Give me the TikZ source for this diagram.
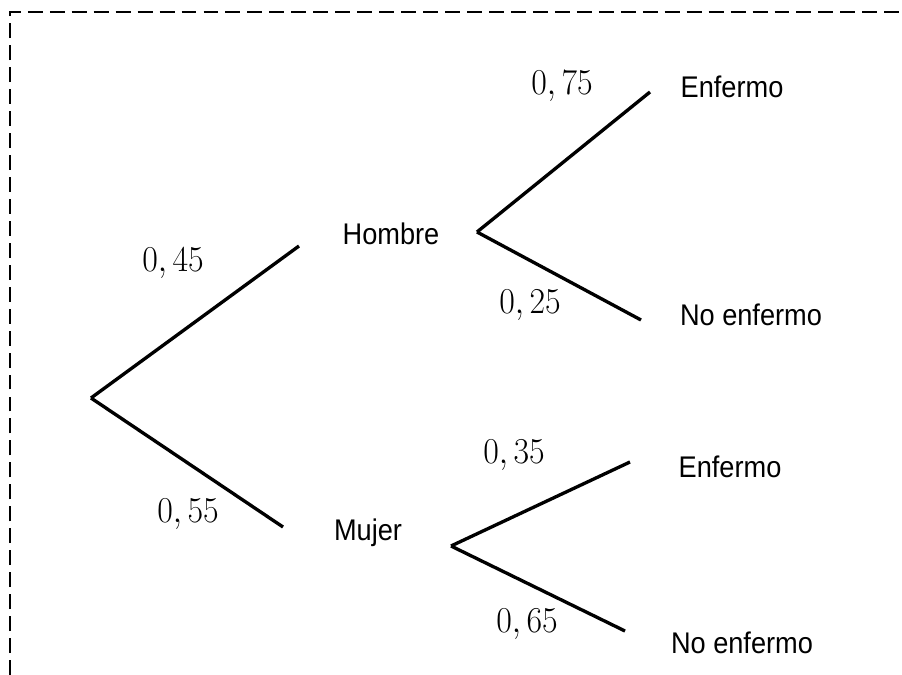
\documentclass[tikz,border=0pt]{standalone}
\usepackage{fontspec}
\setsansfont{Liberation Sans}[FakeStretch=0.91]
\newcommand{\probval}[1]{\scalebox{0.93}[1]{$0,#1$}}
\begin{document}
\begin{tikzpicture}
[x=0.02cm,y=-0.02cm,
  lineDecorate/.style={-,line width=1.9pt},%
  labelDecorate/.style={font=\sffamily\fontsize{17}{19}\selectfont,inner sep=0pt,anchor=base},
  probDecorate/.style={font=\fontsize{21}{23}\selectfont,inner sep=0pt,anchor=base},
  frameDecorate/.style={line width=1.1pt,dash pattern=on 8.5pt off 4pt}]
\useasboundingbox (0,0) rectangle (902,675);
%% frame
\draw[frameDecorate] (10,675) -- (10,12) -- (902,12);
%% branch points
\foreach \pointname/\x/\y in {
  root/91/398, hIn/299/246, mIn/283/527,
  hOut/477/232, mOut/451/546,
  heIn/650/92, hnIn/641/320, meIn/630/462, mnIn/625/631}
{
  \coordinate (\pointname) at (\x,\y);
}
%% texts
\foreach \nodename/\x/\y/\txt in {
  hombre/391/245/Hombre, mujer/368/540/Mujer,
  hEnf/732/98/Enfermo, hNo/751/325/No enfermo,
  mEnf/730/477/Enfermo, mNo/742/653/No enfermo}
{
  \node[labelDecorate] (\nodename) at (\x,\y) {\txt};
}
%% probabilities
\foreach \nodename/\x/\y/\p in {
  p45/173/272/45, p55/188/522/55, p75/562/95/75,
  p25/530/314/25, p35/514/463/35, p65/527/632/65}
{
  \node[probDecorate] (\nodename) at (\x,\y) {\probval{\p}};
}
%% edges or lines
\path
\foreach \startnode/\endnode in {
  root/hIn, root/mIn, hOut/heIn, hOut/hnIn, mOut/meIn, mOut/mnIn}
{
  (\startnode) edge[lineDecorate] (\endnode)
};
\end{tikzpicture}
\end{document}
